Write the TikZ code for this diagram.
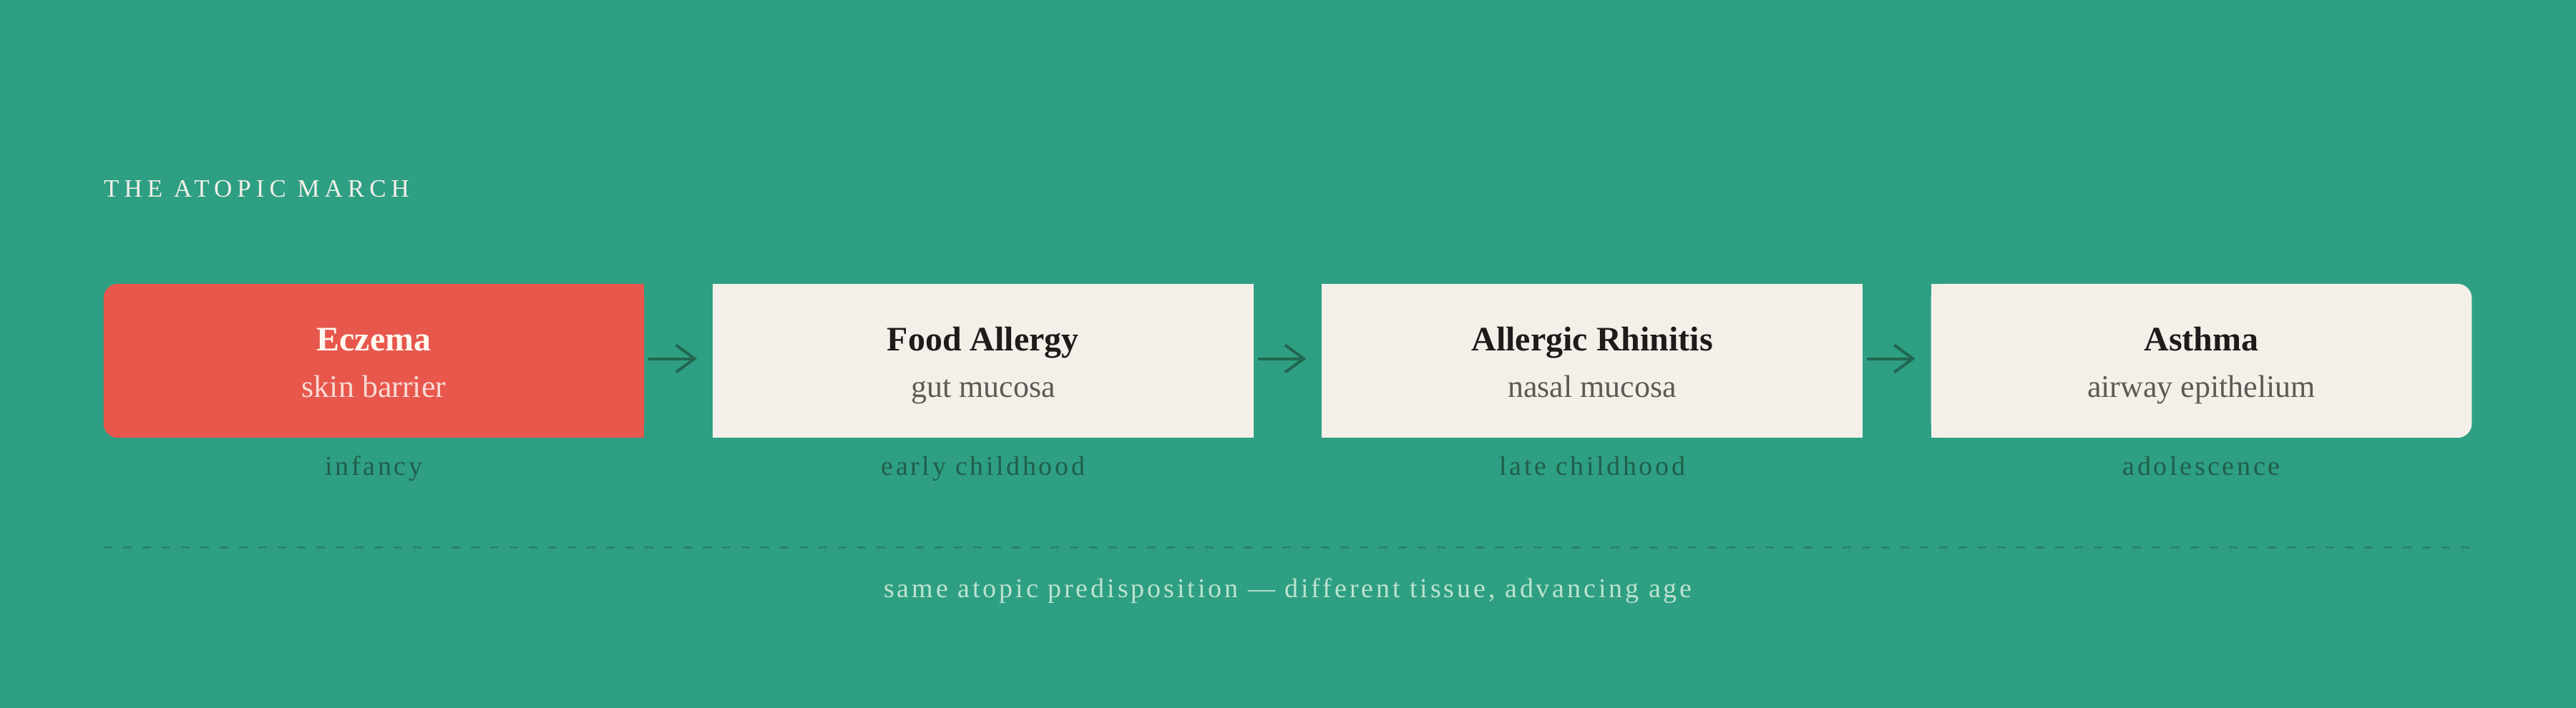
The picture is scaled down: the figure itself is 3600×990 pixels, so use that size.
\documentclass[tikz,border=0pt]{standalone}
\usepackage{fontspec}
\setmainfont{Liberation Serif}
\newfontfamily\spacedT[LetterSpace=20]{Liberation Serif}
\newfontfamily\spacedA[LetterSpace=9.5]{Liberation Serif}
\newfontfamily\spacedB[LetterSpace=10.3]{Liberation Serif}
\usetikzlibrary{arrows.meta}
\definecolor{bg}{HTML}{2E9F83}
\definecolor{ecz}{HTML}{E8574C}
\definecolor{cream}{HTML}{F4F0E9}
\definecolor{ink}{HTML}{1D1C1A}
\definecolor{subgray}{HTML}{5B5A55}
\definecolor{ecztitle}{HTML}{FFF8F0}
\definecolor{eczsub}{HTML}{F8DAD5}
\definecolor{agegreen}{HTML}{215E4A}
\definecolor{arrowgreen}{HTML}{22664F}
\definecolor{dashcol}{HTML}{2A846B}
\definecolor{capcol}{HTML}{BDE3CF}
\begin{document}
\begin{tikzpicture}[x=1pt,y=-1pt,
  box/.style={rectangle, minimum width=755.3pt, minimum height=215pt, inner sep=0pt},
  ttl/.style={anchor=base, inner sep=0pt, font=\fontsize{48}{56}\selectfont\bfseries, text=ink},
  subt/.style={anchor=base, inner sep=0pt, font=\fontsize{44}{52}\selectfont, text=subgray},
  age/.style={anchor=base, inner sep=0pt, font=\spacedA\fontsize{38}{46}\selectfont, text=agegreen},
  link/.style={draw=arrowgreen, line width=4pt, -{Straight Barb[length=26pt,width=38pt]}, shorten <=6pt, shorten >=22pt}]
\fill[bg] (0,0) rectangle (3600,990);
\useasboundingbox (0,0) rectangle (3600,990);

% heading
\node[anchor=base west, inner sep=0pt, font=\spacedT\fontsize{35}{42}\selectfont, text=cream] (head) at (145,275) {THE ATOPIC MARCH};

% boxes
\node[box] (b1) at (522.6,504.5) {};
\node[box] (b2) at (1373.9,504.5) {};
\node[box] (b3) at (2225.2,504.5) {};
\node[box] (b4) at (3076.5,504.5) {};

\fill[ecz, rounded corners=20pt] (b1.south west) rectangle (b1.north east);
\fill[ecz] (b1.south) rectangle (b1.north east);
\fill[cream] (b2.south west) rectangle (b2.north east);
\fill[cream] (b3.south west) rectangle (b3.north east);
\fill[cream, rounded corners=20pt] (b4.south west) rectangle (b4.north east);
\fill[cream] (b4.south west) rectangle (b4.north);

% texts
\node[ttl, text=ecztitle] (t1) at (522.6,490) {Eczema};
\node[subt, text=eczsub] (s1) at (522.6,555) {skin barrier};
\node[ttl] (t2) at (1373.9,490) {Food Allergy};
\node[subt] (s2) at (1373.9,555) {gut mucosa};
\node[ttl] (t3) at (2225.2,490) {Allergic Rhinitis};
\node[subt] (s3) at (2225.2,555) {nasal mucosa};
\node[ttl] (t4) at (3076.5,490) {Asthma};
\node[subt] (s4) at (3076.5,555) {airway epithelium};

% ages
\node[age] (a1) at (522.6,664) {infancy};
\node[age] (a2) at (1373.9,664) {early childhood};
\node[age] (a3) at (2225.2,664) {late childhood};
\node[age] (a4) at (3076.5,664) {adolescence};

% arrows
\draw[link] ([yshift=3pt]b1.east) -- ([yshift=3pt]b2.west);
\draw[link] ([yshift=3pt]b2.east) -- ([yshift=3pt]b3.west);
\draw[link] ([yshift=3pt]b3.east) -- ([yshift=3pt]b4.west);

% dashed rule
\coordinate (dl) at (145,765);
\coordinate (dr) at (3455,765);
\draw[dashcol, line width=3pt, dash pattern=on 12pt off 15pt] (dl) -- (dr);

% caption
\node[anchor=base, inner sep=0pt, font=\spacedB\fontsize{38}{46}\selectfont, text=capcol] (cap) at (1800,835) {same atopic predisposition — different tissue, advancing age};
\end{tikzpicture}
\end{document}
